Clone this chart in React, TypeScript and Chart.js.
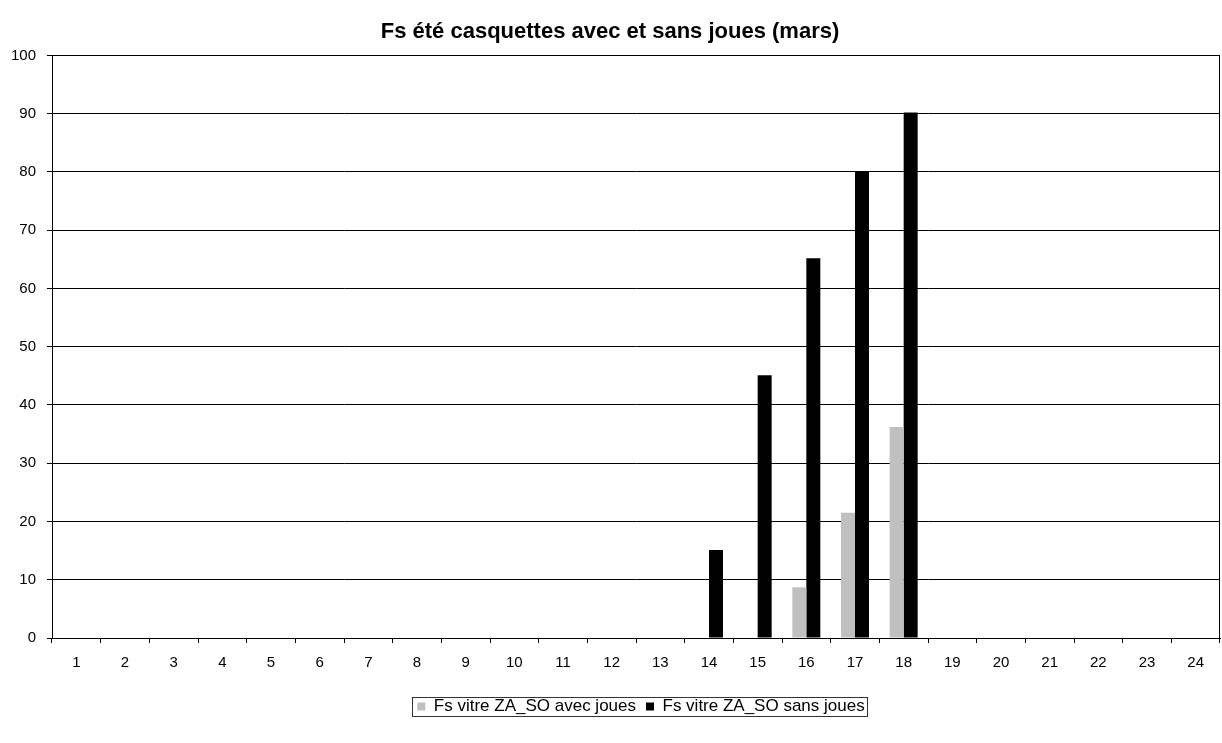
import React, { useEffect, useRef } from "react";
import { Chart, registerables } from "chart.js";

Chart.register(...registerables);

const categories: string[] = Array.from({ length: 24 }, (_, i) => String(i + 1));
const avecJoues: number[] = [0, 0, 0, 0, 0, 0, 0, 0, 0, 0, 0, 0, 0, 0, 0, 8.7, 21.5, 36.2, 0, 0, 0, 0, 0, 0];
const sansJoues: number[] = [0, 0, 0, 0, 0, 0, 0, 0, 0, 0, 0, 0, 0, 15.1, 45.1, 65.2, 80.1, 90.2, 0, 0, 0, 0, 0, 0];
const yTicks: number[] = [0, 10, 20, 30, 40, 50, 60, 70, 80, 90, 100];
const titleText = "Fs été casquettes avec et sans joues (mars)";
const seriesNames: string[] = ["Fs vitre ZA_SO avec joues", "Fs vitre ZA_SO sans joues"];

const FONT = "'Liberation Sans', Arial, sans-serif";

const frame = {
  id: "frame",
  afterLayout(chart: any) {
    const lg = chart.legend;
    if (lg) {
      lg.left += 31;
      lg.right += 31;
    }
  },
  afterDraw(chart: any) {
    const ctx = chart.ctx;
    const a = chart.chartArea;
    ctx.save();
    ctx.strokeStyle = "#000";
    ctx.lineWidth = 1;
    ctx.strokeRect(Math.round(a.left) + 0.5, Math.round(a.top) + 0.5, Math.round(a.right - a.left) - 1, Math.round(a.bottom - a.top));
    const boxes = chart.legend && chart.legend.legendHitBoxes;
    if (boxes && boxes.length) {
      let l = Infinity, r = -Infinity, t = Infinity, b = -Infinity;
      for (const h of boxes) {
        l = Math.min(l, h.left);
        r = Math.max(r, h.left + h.width);
        t = Math.min(t, h.top);
        b = Math.max(b, h.top + h.height);
      }
      ctx.strokeStyle = "#333";
      ctx.strokeRect(Math.round(l - 5) + 0.5, Math.round(t - 1) + 0.5, Math.round(r - l + 8), Math.round(b - t + 2));
    }
    ctx.restore();
  },
};

export default function App() {
  const ref = useRef<HTMLCanvasElement | null>(null);
  useEffect(() => {
    if (!ref.current) return;
    const chart = new Chart(ref.current, {
      type: "bar",
      data: {
        labels: categories,
        datasets: [
          { label: seriesNames[0], data: avecJoues, backgroundColor: "#c0c0c0", borderWidth: 0 },
          { label: seriesNames[1], data: sansJoues, backgroundColor: "#000000", borderWidth: 0 },
        ],
      },
      options: {
        responsive: false,
        animation: false,
        layout: { padding: { left: 0, right: 2, top: 0, bottom: 18 } },
        datasets: { bar: { categoryPercentage: 0.575, barPercentage: 1 } },
        scales: {
          x: {
            afterFit(scale: any) { scale.height = 50; },
            grid: { display: true, drawOnChartArea: false, drawTicks: true, tickLength: 5, color: "#000", offset: true },
            border: { color: "#000" },
            ticks: { color: "#000", font: { family: FONT, size: 15 }, padding: 11, maxRotation: 0 },
          },
          y: {
            min: 0,
            max: 100,
            afterFit(scale: any) { scale.width = 52; },
            afterBuildTicks(scale: any) { scale.ticks = yTicks.map((v) => ({ value: v })); },
            grid: { color: "#000", tickLength: 5 },
            border: { color: "#000" },
            ticks: { color: "#000", font: { family: FONT, size: 15 }, padding: 11 },
          },
        },
        plugins: {
          title: {
            display: true,
            text: titleText,
            color: "#000",
            font: { family: FONT, size: 22, weight: "bold" },
            padding: { top: 19, bottom: 10 },
          },
          legend: {
            position: "bottom",
            labels: { color: "#000", font: { family: FONT, size: 17 }, boxWidth: 8, boxHeight: 8, padding: 10 },
          },
          tooltip: { enabled: false },
        },
      } as any,
      plugins: [frame],
    });
    return () => chart.destroy();
  }, []);
  return (
    <div style={{ position: "fixed", left: 0, top: 0, width: 1222, height: 743, background: "#fff" }}>
      <canvas ref={ref} width={1222} height={743} style={{ display: "block" }} />
    </div>
  );
}
